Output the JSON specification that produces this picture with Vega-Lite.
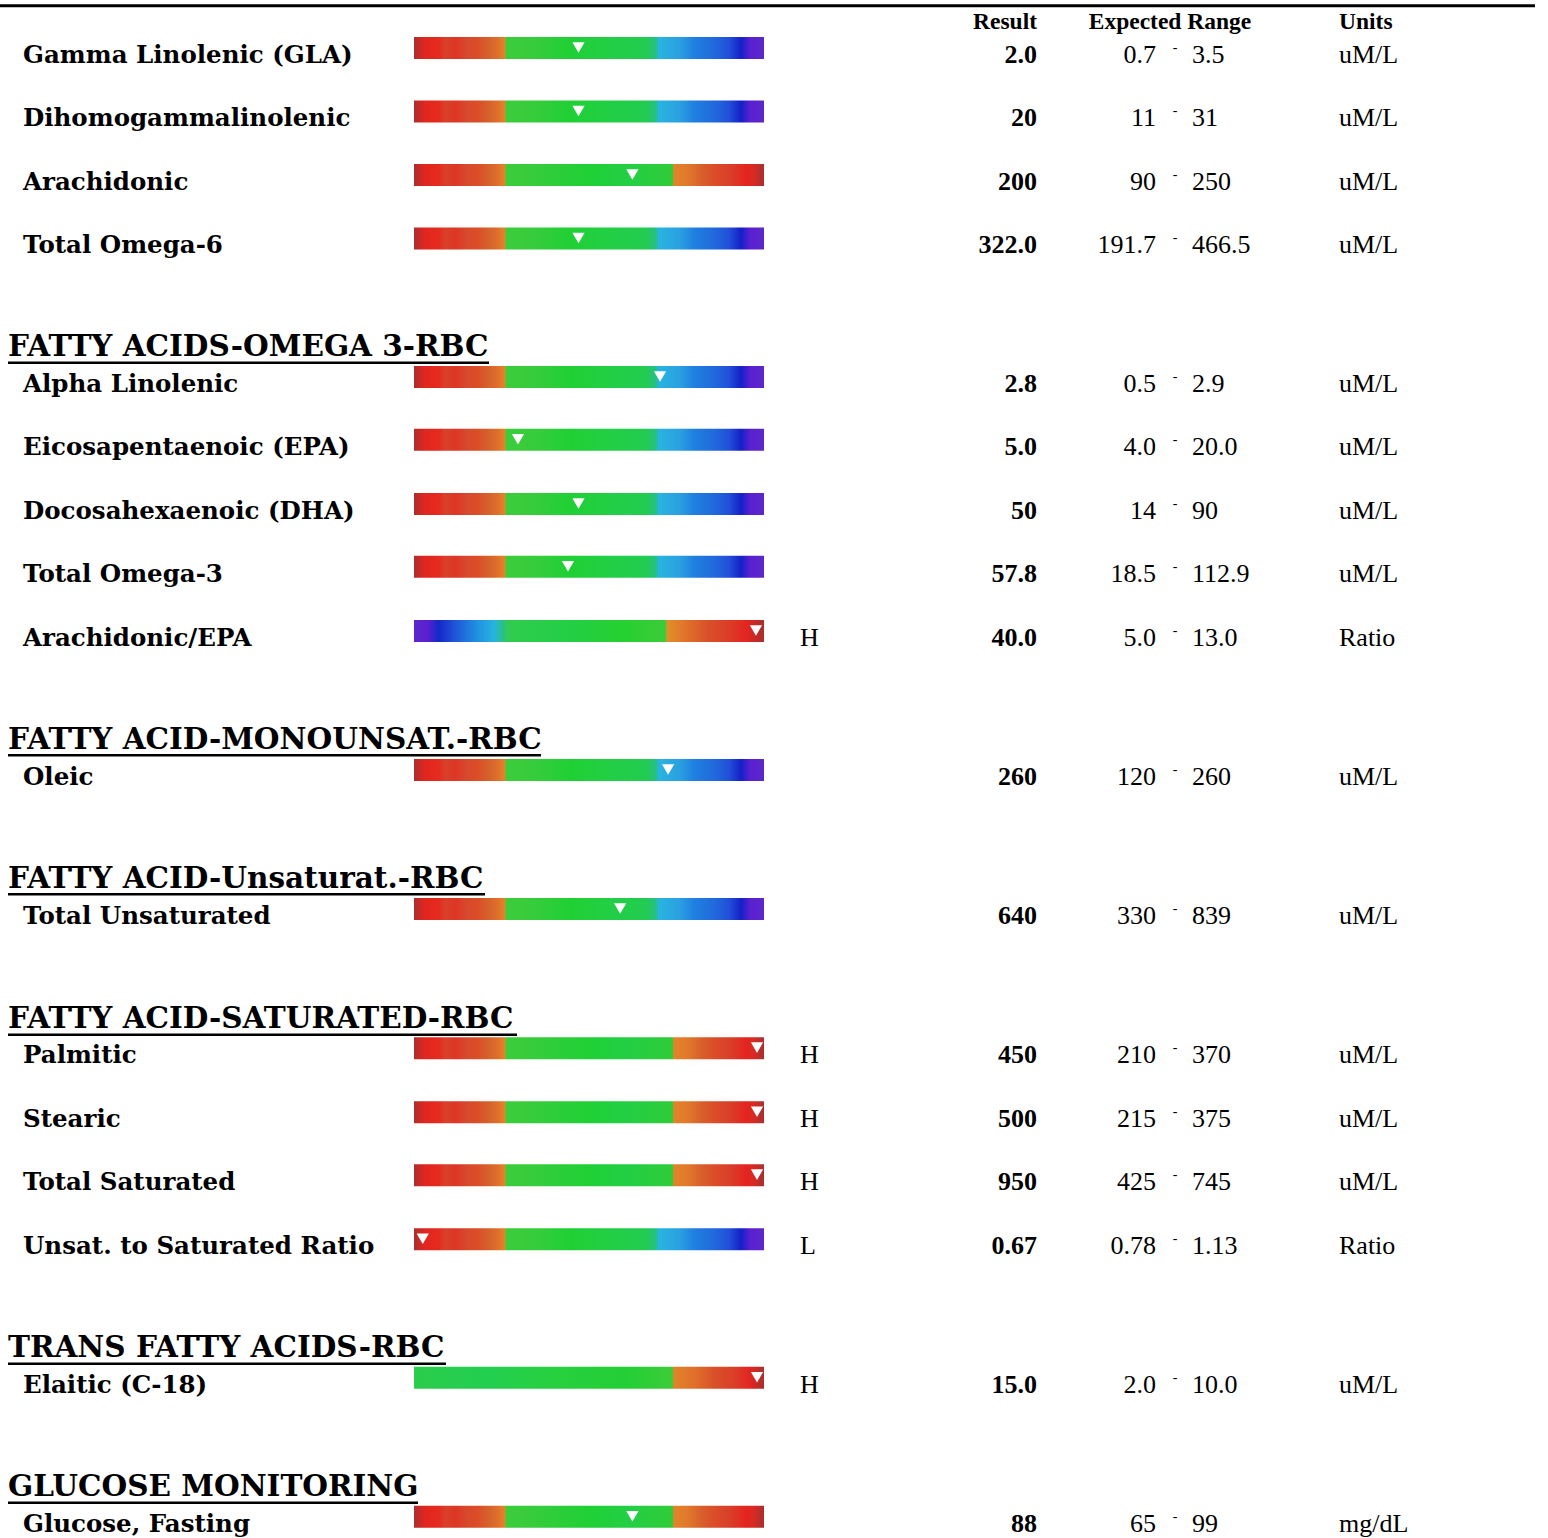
{
  "$schema": "https://vega.github.io/schema/vega-lite/v6.json",
  "width": 1548,
  "height": 1538,
  "padding": 0,
  "autosize": {"type": "none"},
  "background": "white",
  "config": {"view": {"stroke": null}},
  "datasets": {
    "items": [
      {"name": "Gamma Linolenic (GLA)", "line": 0, "bar": "RGB", "marker": 47, "flag": "", "result": "2.0", "low": "0.7", "high": "3.5", "unit": "uM/L"},
      {"name": "Dihomogammalinolenic", "line": 1, "bar": "RGB", "marker": 47, "flag": "", "result": "20", "low": "11", "high": "31", "unit": "uM/L"},
      {"name": "Arachidonic", "line": 2, "bar": "RGR", "marker": 62.4, "flag": "", "result": "200", "low": "90", "high": "250", "unit": "uM/L"},
      {"name": "Total Omega-6", "line": 3, "bar": "RGB", "marker": 47, "flag": "", "result": "322.0", "low": "191.7", "high": "466.5", "unit": "uM/L"},
      {"name": "Alpha Linolenic", "line": 5.18, "bar": "RGB", "marker": 70.3, "flag": "", "result": "2.8", "low": "0.5", "high": "2.9", "unit": "uM/L"},
      {"name": "Eicosapentaenoic (EPA)", "line": 6.17, "bar": "RGB", "marker": 29.7, "flag": "", "result": "5.0", "low": "4.0", "high": "20.0", "unit": "uM/L"},
      {"name": "Docosahexaenoic (DHA)", "line": 7.18, "bar": "RGB", "marker": 47, "flag": "", "result": "50", "low": "14", "high": "90", "unit": "uM/L"},
      {"name": "Total Omega-3", "line": 8.17, "bar": "RGB", "marker": 44, "flag": "", "result": "57.8", "low": "18.5", "high": "112.9", "unit": "uM/L"},
      {"name": "Arachidonic/EPA", "line": 9.18, "bar": "BGR", "marker": 97.7, "flag": "H", "result": "40.0", "low": "5.0", "high": "13.0", "unit": "Ratio"},
      {"name": "Oleic", "line": 11.37, "bar": "RGB", "marker": 72.6, "flag": "", "result": "260", "low": "120", "high": "260", "unit": "uM/L"},
      {"name": "Total Unsaturated", "line": 13.56, "bar": "RGB", "marker": 58.9, "flag": "", "result": "640", "low": "330", "high": "839", "unit": "uM/L"},
      {"name": "Palmitic", "line": 15.75, "bar": "RGR", "marker": 98, "flag": "H", "result": "450", "low": "210", "high": "370", "unit": "uM/L"},
      {"name": "Stearic", "line": 16.76, "bar": "RGR", "marker": 98, "flag": "H", "result": "500", "low": "215", "high": "375", "unit": "uM/L"},
      {"name": "Total Saturated", "line": 17.75, "bar": "RGR", "marker": 98, "flag": "H", "result": "950", "low": "425", "high": "745", "unit": "uM/L"},
      {"name": "Unsat. to Saturated Ratio", "line": 18.76, "bar": "RGB", "marker": 2.5, "flag": "L", "result": "0.67", "low": "0.78", "high": "1.13", "unit": "Ratio"},
      {"name": "Elaitic (C-18)", "line": 20.94, "bar": "GR", "marker": 98, "flag": "H", "result": "15.0", "low": "2.0", "high": "10.0", "unit": "uM/L"},
      {"name": "Glucose, Fasting", "line": 23.13, "bar": "RGR", "marker": 62.4, "flag": "", "result": "88", "low": "65", "high": "99", "unit": "mg/dL"}
    ],
    "headers": [
      {"title": "FATTY ACIDS-OMEGA 3-RBC", "line": 4.62},
      {"title": "FATTY ACID-MONOUNSAT.-RBC", "line": 10.8},
      {"title": "FATTY ACID-Unsaturat.-RBC", "line": 12.99},
      {"title": "FATTY ACID-SATURATED-RBC", "line": 15.2},
      {"title": "TRANS FATTY ACIDS-RBC", "line": 20.38},
      {"title": "GLUCOSE MONITORING", "line": 22.57}
    ],
    "columns": [
      {"label": "Result", "line": -0.54}
    ]
  },
  "resolve": {"scale": {"x": "independent"}},
  "encoding": {
    "y": {"field": "line", "type": "quantitative", "axis": null, "scale": {"domain": [-0.992, 23.228], "reverse": true, "nice": false, "zero": false}}
  },
  "layer": [
    {
      "data": {"values": [{"line": -0.9}]},
      "mark": {"type": "rule", "strokeWidth": 3, "color": "black"},
      "encoding": {
        "x": {"datum": 0, "type": "quantitative", "axis": null, "scale": {"domain": [0, 1548], "range": [0, 1548], "nice": false, "zero": false}},
        "x2": {"datum": 1535}
      }
    },
    {
      "data": {"name": "columns"},
      "mark": {"type": "text", "align": "right", "baseline": "alphabetic", "font": "Liberation Serif", "fontWeight": "bold", "fontSize": 23.5, "color": "black"},
      "encoding": {
        "x": {"datum": 1037, "type": "quantitative", "axis": null, "scale": {"domain": [0, 1548], "range": [0, 1548], "nice": false, "zero": false}},
        "text": {"value": "Result"}
      }
    },
    {
      "data": {"name": "columns"},
      "mark": {"type": "text", "align": "center", "baseline": "alphabetic", "font": "Liberation Serif", "fontWeight": "bold", "fontSize": 23.5, "color": "black"},
      "encoding": {
        "x": {"datum": 1170, "type": "quantitative", "axis": null, "scale": {"domain": [0, 1548], "range": [0, 1548], "nice": false, "zero": false}},
        "text": {"value": "Expected Range"}
      }
    },
    {
      "data": {"name": "columns"},
      "mark": {"type": "text", "align": "left", "baseline": "alphabetic", "font": "Liberation Serif", "fontWeight": "bold", "fontSize": 23.5, "color": "black"},
      "encoding": {
        "x": {"datum": 1339, "type": "quantitative", "axis": null, "scale": {"domain": [0, 1548], "range": [0, 1548], "nice": false, "zero": false}},
        "text": {"value": "Units"}
      }
    },
    {
      "data": {"name": "headers"},
      "mark": {"type": "text", "align": "left", "baseline": "alphabetic", "font": "DejaVu Serif", "fontWeight": "bold", "fontSize": 29.5, "color": "black"},
      "encoding": {
        "x": {"datum": 8, "type": "quantitative", "axis": null, "scale": {"domain": [0, 1548], "range": [0, 1548], "nice": false, "zero": false}},
        "text": {"field": "title"}
      }
    },
    {
      "data": {"name": "headers"},
      "transform": [{"filter": "datum.title === 'FATTY ACIDS-OMEGA 3-RBC'"}],
      "mark": {"type": "rule", "strokeWidth": 2.5, "color": "black", "yOffset": 6.5},
      "encoding": {
        "x": {"datum": 8, "type": "quantitative", "axis": null, "scale": {"domain": [0, 1548], "range": [0, 1548], "nice": false, "zero": false}},
        "x2": {"datum": 489}
      }
    },
    {
      "data": {"name": "headers"},
      "transform": [{"filter": "datum.title === 'FATTY ACID-MONOUNSAT.-RBC'"}],
      "mark": {"type": "rule", "strokeWidth": 2.5, "color": "black", "yOffset": 6.5},
      "encoding": {
        "x": {"datum": 8, "type": "quantitative", "axis": null, "scale": {"domain": [0, 1548], "range": [0, 1548], "nice": false, "zero": false}},
        "x2": {"datum": 541}
      }
    },
    {
      "data": {"name": "headers"},
      "transform": [{"filter": "datum.title === 'FATTY ACID-Unsaturat.-RBC'"}],
      "mark": {"type": "rule", "strokeWidth": 2.5, "color": "black", "yOffset": 6.5},
      "encoding": {
        "x": {"datum": 8, "type": "quantitative", "axis": null, "scale": {"domain": [0, 1548], "range": [0, 1548], "nice": false, "zero": false}},
        "x2": {"datum": 485}
      }
    },
    {
      "data": {"name": "headers"},
      "transform": [{"filter": "datum.title === 'FATTY ACID-SATURATED-RBC'"}],
      "mark": {"type": "rule", "strokeWidth": 2.5, "color": "black", "yOffset": 6.5},
      "encoding": {
        "x": {"datum": 8, "type": "quantitative", "axis": null, "scale": {"domain": [0, 1548], "range": [0, 1548], "nice": false, "zero": false}},
        "x2": {"datum": 517}
      }
    },
    {
      "data": {"name": "headers"},
      "transform": [{"filter": "datum.title === 'TRANS FATTY ACIDS-RBC'"}],
      "mark": {"type": "rule", "strokeWidth": 2.5, "color": "black", "yOffset": 6.5},
      "encoding": {
        "x": {"datum": 8, "type": "quantitative", "axis": null, "scale": {"domain": [0, 1548], "range": [0, 1548], "nice": false, "zero": false}},
        "x2": {"datum": 446}
      }
    },
    {
      "data": {"name": "headers"},
      "transform": [{"filter": "datum.title === 'GLUCOSE MONITORING'"}],
      "mark": {"type": "rule", "strokeWidth": 2.5, "color": "black", "yOffset": 6.5},
      "encoding": {
        "x": {"datum": 8, "type": "quantitative", "axis": null, "scale": {"domain": [0, 1548], "range": [0, 1548], "nice": false, "zero": false}},
        "x2": {"datum": 418}
      }
    },
    {
      "data": {"name": "items"},
      "mark": {"type": "text", "align": "left", "baseline": "alphabetic", "font": "DejaVu Serif", "fontWeight": "bold", "fontSize": 24.5, "color": "black"},
      "encoding": {
        "x": {"datum": 23, "type": "quantitative", "axis": null, "scale": {"domain": [0, 1548], "range": [0, 1548], "nice": false, "zero": false}},
        "text": {"field": "name"}
      }
    },
    {
      "data": {"name": "items"},
      "transform": [{"filter": "datum.bar === 'RGB'"}],
      "mark": {"type": "rect", "yOffset": -26, "y2Offset": -4, "fill": {"gradient": "linear", "x1": 0, "y1": 0, "x2": 1, "y2": 0, "stops": [
        {"offset": 0, "color": "#a8302e"}, {"offset": 0.03, "color": "#e0261e"}, {"offset": 0.07, "color": "#e52a20"}, {"offset": 0.09, "color": "#d8402a"},
        {"offset": 0.12, "color": "#dd3626"}, {"offset": 0.15, "color": "#d64a2c"}, {"offset": 0.18, "color": "#dc4c28"}, {"offset": 0.21, "color": "#d4602c"},
        {"offset": 0.24, "color": "#e0702a"}, {"offset": 0.26, "color": "#e0862a"}, {"offset": 0.263, "color": "#3ccc3a"}, {"offset": 0.35, "color": "#36cc3c"},
        {"offset": 0.45, "color": "#1fd034"}, {"offset": 0.55, "color": "#22cf44"}, {"offset": 0.66, "color": "#22cc50"}, {"offset": 0.69, "color": "#26c080"},
        {"offset": 0.7, "color": "#28b4e0"}, {"offset": 0.76, "color": "#2aa0e0"}, {"offset": 0.8, "color": "#2080e0"}, {"offset": 0.86, "color": "#2068dc"},
        {"offset": 0.9, "color": "#2050d8"}, {"offset": 0.935, "color": "#1420c8"}, {"offset": 0.96, "color": "#5a20d0"}, {"offset": 1, "color": "#5c28cc"}]}},
      "encoding": {
        "x": {"datum": 0, "type": "quantitative", "axis": null, "scale": {"domain": [0, 100], "range": [414, 764], "nice": false, "zero": false}},
        "x2": {"datum": 100},
        "y2": {"field": "line"}
      }
    },
    {
      "data": {"name": "items"},
      "transform": [{"filter": "datum.bar === 'RGR'"}],
      "mark": {"type": "rect", "yOffset": -26, "y2Offset": -4, "fill": {"gradient": "linear", "x1": 0, "y1": 0, "x2": 1, "y2": 0, "stops": [
        {"offset": 0, "color": "#a8302e"}, {"offset": 0.03, "color": "#e0261e"}, {"offset": 0.07, "color": "#e52a20"}, {"offset": 0.09, "color": "#d8402a"},
        {"offset": 0.12, "color": "#dd3626"}, {"offset": 0.15, "color": "#d64a2c"}, {"offset": 0.18, "color": "#dc4c28"}, {"offset": 0.21, "color": "#d4602c"},
        {"offset": 0.24, "color": "#e0702a"}, {"offset": 0.26, "color": "#e0862a"}, {"offset": 0.263, "color": "#3ccc3a"}, {"offset": 0.35, "color": "#36cc3c"},
        {"offset": 0.5, "color": "#1fd034"}, {"offset": 0.6, "color": "#22cf44"}, {"offset": 0.738, "color": "#30cc3a"}, {"offset": 0.742, "color": "#e0842a"},
        {"offset": 0.78, "color": "#e07a2a"}, {"offset": 0.82, "color": "#d8602c"}, {"offset": 0.86, "color": "#dc4c28"}, {"offset": 0.9, "color": "#d8402a"},
        {"offset": 0.95, "color": "#e42420"}, {"offset": 0.97, "color": "#d82a24"}, {"offset": 1, "color": "#a8302e"}]}},
      "encoding": {
        "x": {"datum": 0, "type": "quantitative", "axis": null, "scale": {"domain": [0, 100], "range": [414, 764], "nice": false, "zero": false}},
        "x2": {"datum": 100},
        "y2": {"field": "line"}
      }
    },
    {
      "data": {"name": "items"},
      "transform": [{"filter": "datum.bar === 'BGR'"}],
      "mark": {"type": "rect", "yOffset": -26, "y2Offset": -4, "fill": {"gradient": "linear", "x1": 0, "y1": 0, "x2": 1, "y2": 0, "stops": [
        {"offset": 0, "color": "#5c28cc"}, {"offset": 0.04, "color": "#5a20d0"}, {"offset": 0.07, "color": "#1428c8"}, {"offset": 0.12, "color": "#2058d8"},
        {"offset": 0.18, "color": "#2090e0"}, {"offset": 0.23, "color": "#28b4e0"}, {"offset": 0.255, "color": "#2cc080"}, {"offset": 0.27, "color": "#30cc50"},
        {"offset": 0.45, "color": "#22cf44"}, {"offset": 0.6, "color": "#26d030"}, {"offset": 0.718, "color": "#3ccc3a"}, {"offset": 0.723, "color": "#e0902a"},
        {"offset": 0.78, "color": "#e0702a"}, {"offset": 0.84, "color": "#d8502a"}, {"offset": 0.9, "color": "#dc3c28"}, {"offset": 0.95, "color": "#e42420"},
        {"offset": 1, "color": "#a8302e"}]}},
      "encoding": {
        "x": {"datum": 0, "type": "quantitative", "axis": null, "scale": {"domain": [0, 100], "range": [414, 764], "nice": false, "zero": false}},
        "x2": {"datum": 100},
        "y2": {"field": "line"}
      }
    },
    {
      "data": {"name": "items"},
      "transform": [{"filter": "datum.bar === 'GR'"}],
      "mark": {"type": "rect", "yOffset": -26, "y2Offset": -4, "fill": {"gradient": "linear", "x1": 0, "y1": 0, "x2": 1, "y2": 0, "stops": [
        {"offset": 0, "color": "#2ccc4c"}, {"offset": 0.2, "color": "#22cf50"}, {"offset": 0.4, "color": "#28d040"}, {"offset": 0.6, "color": "#22cf34"},
        {"offset": 0.738, "color": "#3ccc3a"}, {"offset": 0.742, "color": "#e0842a"}, {"offset": 0.8, "color": "#e0702a"}, {"offset": 0.86, "color": "#d8502a"},
        {"offset": 0.92, "color": "#dc3c28"}, {"offset": 0.96, "color": "#e42420"}, {"offset": 1, "color": "#a8302e"}]}},
      "encoding": {
        "x": {"datum": 0, "type": "quantitative", "axis": null, "scale": {"domain": [0, 100], "range": [414, 764], "nice": false, "zero": false}},
        "x2": {"datum": 100},
        "y2": {"field": "line"}
      }
    },
    {
      "data": {"name": "items"},
      "mark": {"type": "point", "shape": "triangle-down", "filled": true, "fill": "white", "stroke": null, "opacity": 1, "size": 150, "yOffset": -15.5},
      "encoding": {
        "x": {"field": "marker", "type": "quantitative", "axis": null, "scale": {"domain": [0, 100], "range": [414, 764], "nice": false, "zero": false}}
      }
    },
    {
      "data": {"name": "items"},
      "mark": {"type": "text", "align": "left", "baseline": "alphabetic", "font": "Liberation Serif", "fontSize": 26, "color": "black"},
      "encoding": {
        "x": {"datum": 800, "type": "quantitative", "axis": null, "scale": {"domain": [0, 1548], "range": [0, 1548], "nice": false, "zero": false}},
        "text": {"field": "flag"}
      }
    },
    {
      "data": {"name": "items"},
      "mark": {"type": "text", "align": "right", "baseline": "alphabetic", "font": "Liberation Serif", "fontWeight": "bold", "fontSize": 26, "color": "black"},
      "encoding": {
        "x": {"datum": 1037, "type": "quantitative", "axis": null, "scale": {"domain": [0, 1548], "range": [0, 1548], "nice": false, "zero": false}},
        "text": {"field": "result"}
      }
    },
    {
      "data": {"name": "items"},
      "mark": {"type": "text", "align": "right", "baseline": "alphabetic", "font": "Liberation Serif", "fontSize": 26, "color": "black"},
      "encoding": {
        "x": {"datum": 1156, "type": "quantitative", "axis": null, "scale": {"domain": [0, 1548], "range": [0, 1548], "nice": false, "zero": false}},
        "text": {"field": "low"}
      }
    },
    {
      "data": {"name": "items"},
      "mark": {"type": "text", "align": "center", "baseline": "alphabetic", "font": "Liberation Serif", "fontSize": 14, "dy": -11, "color": "black"},
      "encoding": {
        "x": {"datum": 1175, "type": "quantitative", "axis": null, "scale": {"domain": [0, 1548], "range": [0, 1548], "nice": false, "zero": false}},
        "text": {"value": "-"}
      }
    },
    {
      "data": {"name": "items"},
      "mark": {"type": "text", "align": "left", "baseline": "alphabetic", "font": "Liberation Serif", "fontSize": 26, "color": "black"},
      "encoding": {
        "x": {"datum": 1192, "type": "quantitative", "axis": null, "scale": {"domain": [0, 1548], "range": [0, 1548], "nice": false, "zero": false}},
        "text": {"field": "high"}
      }
    },
    {
      "data": {"name": "items"},
      "mark": {"type": "text", "align": "left", "baseline": "alphabetic", "font": "Liberation Serif", "fontSize": 26, "color": "black"},
      "encoding": {
        "x": {"datum": 1339, "type": "quantitative", "axis": null, "scale": {"domain": [0, 1548], "range": [0, 1548], "nice": false, "zero": false}},
        "text": {"field": "unit"}
      }
    }
  ]
}
